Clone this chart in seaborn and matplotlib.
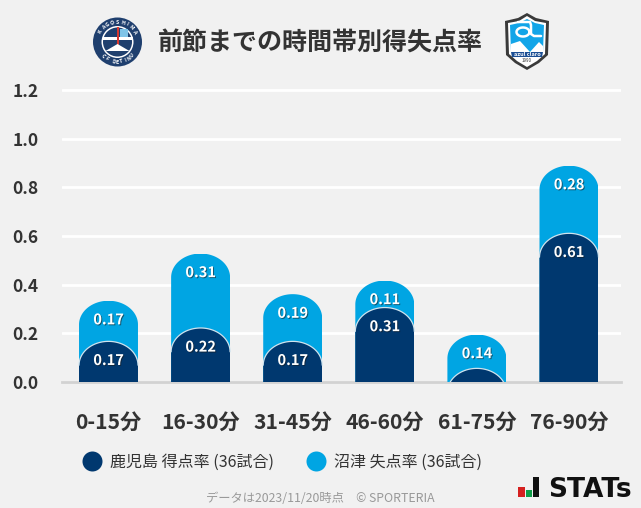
import numpy as np
import pandas as pd
import matplotlib
matplotlib.use('Agg')
import matplotlib.pyplot as plt
import matplotlib.patheffects as pe
from matplotlib.lines import Line2D
from matplotlib.patches import Circle, PathPatch, Polygon, Rectangle
from matplotlib.path import Path
import seaborn as sns

periods = ['0-15分', '16-30分', '31-45分', '46-60分', '61-75分', '76-90分']
scored = [0.167, 0.222, 0.167, 0.306, 0.056, 0.611]
conceded = [0.167, 0.306, 0.194, 0.111, 0.139, 0.278]
y_ticks = [0.0, 0.2, 0.4, 0.6, 0.8, 1.0, 1.2]
scored_label = '鹿児島 得点率 (36試合)'
conceded_label = '沼津 失点率 (36試合)'

NAVY = '#00386f'
SKY = '#00a5e3'
BG = '#f1f1f1'
W, H = 641, 508
CAP = 0.098  # height of the rounded bar top, in data units


def round_top(ax, bar, color, outline=None):
    x, w, h = bar.get_x(), bar.get_width(), bar.get_height()
    theta = np.linspace(np.pi, 0, 80)
    xs = x + w / 2 + w / 2 * np.cos(theta)
    ys = h - CAP + CAP * np.sin(theta)
    low = min(0, h - CAP)
    poly = np.column_stack([np.r_[x, xs, x + w], np.r_[low, ys, low]])
    clip = PathPatch(Path(poly, closed=False), transform=ax.transData)
    bar.set_clip_path(clip)
    bar.set_color(color)
    bar.set_linewidth(0)
    if outline:
        ax.plot(xs, ys, color=outline, lw=0.9, zorder=bar.get_zorder() + 0.1)


def add_logos(fig):
    # everything here is placed in pixel coordinates of the figure
    px = fig.add_axes([0, 0, 1, 1], facecolor='none')
    px.set_xlim(0, W)
    px.set_ylim(H, 0)
    px.axis('off')

    # Kagoshima crest
    cx, cy = 117.5, 42
    px.add_patch(Circle((cx, cy), 24.5, fc='#1f3f6e', ec='none'))
    px.add_patch(Circle((cx, cy), 16, fc='white', ec='none'))
    px.add_patch(Circle((cx, cy), 14.5, fc='#1f3f6e', ec='none'))
    px.add_patch(Rectangle((cx - 15, cy - 5), 30, 3, fc='white', ec='none'))
    px.add_patch(Rectangle((cx - 1, cy - 15), 2, 18, fc='#d8362e', ec='none'))
    px.add_patch(Rectangle((cx + 2, cy - 13), 8, 8, fc='#7fc4e8', ec='none'))
    px.add_patch(Polygon([[cx - 12, cy + 9], [cx, cy + 2], [cx + 12, cy + 9]], fc='white', ec='none'))
    for i, ch in enumerate('KAGOSHIMA'):
        ang = np.deg2rad(-58 + i * 14.5)
        px.text(cx + 20 * np.sin(ang), cy - 20 * np.cos(ang), ch, color='white', fontsize=3.8,
                fontweight='bold', rotation=-np.rad2deg(ang), ha='center', va='center')
    for i, ch in enumerate('UNITED FC'):
        ang = np.deg2rad(46 - i * 11.5)
        px.text(cx + 20 * np.sin(ang), cy + 20 * np.cos(ang), ch, color='white', fontsize=3.8,
                fontweight='bold', rotation=np.rad2deg(ang), ha='center', va='center')

    # Numazu crest
    sx, sy = 527, 41
    outer = [[-22, -20], [-9, -23], [0, -28], [9, -23], [22, -20], [21, 14], [12, 22], [0, 29], [-12, 22], [-21, 14]]
    inner = [[-19, -18], [-8, -20], [0, -25], [8, -20], [19, -18], [18, 13], [10, 20], [0, 26], [-10, 20], [-18, 13]]
    blue = [[-17, -16], [-8, -18], [0, -22], [8, -18], [17, -16], [16, 11], [-16, 11]]
    px.add_patch(Polygon([[sx + a, sy + b] for a, b in outer], fc='#3a3a3a', ec='none'))
    px.add_patch(Polygon([[sx + a, sy + b] for a, b in inner], fc='white', ec='none'))
    px.add_patch(Polygon([[sx + a, sy + b] for a, b in blue], fc='#12a5e8', ec='none'))
    # stylised "a" with its long tail
    t = np.linspace(0, 2 * np.pi, 40)
    px.plot(sx - 4 + 6.5 * np.cos(t), sy - 9 + 4.5 * np.sin(t), color='white', lw=1.8)
    px.plot([sx - 9, sx + 3, sx + 4, sx + 4, sx + 7, sx + 14], [sy - 19, sy - 19, sy - 16, sy - 7, sy - 5, sy - 5],
            color='white', lw=1.8)
    px.add_patch(Polygon([[sx - 16, sy + 3], [sx - 7, sy + 0], [sx + 3, sy + 11], [sx + 12, sy + 1], [sx + 16, sy + 5],
                          [sx + 16, sy + 11], [sx - 16, sy + 11]], fc='white', ec='none'))
    px.add_patch(Polygon([[sx - 16, sy + 11], [sx + 16, sy + 11], [sx + 15, sy + 16], [sx - 15, sy + 16]],
                         fc='#1c4f94', ec='none'))
    px.text(sx, sy + 13.4, 'azul claro', color='white', fontsize=4, fontweight='bold', ha='center', va='center')
    px.text(sx, sy + 19, '1990', color='#333333', fontsize=3.2, ha='center', va='center')

    # STATs mark
    px.add_patch(Rectangle((518, 487), 7, 10, fc='#d5201f', ec='none'))
    px.add_patch(Rectangle((526, 490), 6, 7, fc='#0f9d48', ec='none'))
    px.add_patch(Rectangle((533, 477), 6, 20, fc='#111111', ec='none'))
    px.text(548, 497, 'STATs', color='#111111', fontsize=19, fontweight='bold',
            family='DejaVu Sans', ha='left', va='baseline')


def main():
    sns.set_theme(style='whitegrid')
    plt.rcParams['font.family'] = ['Noto Sans CJK JP', 'DejaVu Sans']

    df = pd.DataFrame({'period': periods, 'scored': scored, 'conceded': conceded})
    df['total'] = df['scored'] + df['conceded']

    fig = plt.figure(figsize=(W / 100, H / 100), dpi=100, facecolor=BG)
    left, right, top, bottom = 62, 621, 88, 382
    ax = fig.add_axes([left / W, 1 - bottom / H, (right - left) / W, (bottom - top) / H], facecolor=BG)

    sns.barplot(data=df, x='period', y='total', color=SKY, width=0.64, saturation=1, ax=ax, zorder=3)
    n_light = len(ax.patches)
    sns.barplot(data=df, x='period', y='scored', color=NAVY, width=0.64, saturation=1, ax=ax, zorder=4)

    ax.set_ylim(0, 1.2 * 294 / 292)
    ax.set_xlim(-0.505, 5.565)
    bars = list(ax.patches)
    for bar in bars[:n_light]:
        round_top(ax, bar, SKY)
    for bar in bars[n_light:]:
        round_top(ax, bar, NAVY, outline='#cfe3ee')

    shadow = [pe.withSimplePatchShadow(offset=(0.7, -0.7), shadow_rgbFace='#1a1a1a', alpha=0.55)]
    for bar, value in zip(bars[:n_light], conceded):
        ax.annotate(f'{value:.2f}', (bar.get_x() + bar.get_width() / 2, bar.get_height()), xytext=(0, -13.4),
                    textcoords='offset points', ha='center', va='center', color='white', fontsize=10.5,
                    fontweight='bold', zorder=6, path_effects=shadow)
    for bar, value in zip(bars[n_light:], scored):
        if value < 0.1:
            continue
        ax.annotate(f'{value:.2f}', (bar.get_x() + bar.get_width() / 2, bar.get_height()), xytext=(0, -13.4),
                    textcoords='offset points', ha='center', va='center', color='white', fontsize=10.5,
                    fontweight='bold', zorder=6, path_effects=shadow)

    ax.set_yticks(y_ticks, [f'{t:.1f}' for t in y_ticks])
    ax.set_xlabel('')
    ax.set_ylabel('')
    ax.grid(axis='y', color='white', lw=2)
    ax.grid(axis='x', visible=False)
    ax.set_axisbelow(True)
    sns.despine(ax=ax, left=True)
    ax.spines['bottom'].set_color('#d2d2d2')
    ax.spines['bottom'].set_linewidth(2)
    ax.spines['bottom'].set_zorder(2)
    ax.tick_params(axis='y', length=0, pad=17, labelsize=12.5, labelcolor='#333333')
    ax.tick_params(axis='x', length=0, pad=21.5, labelsize=15.2, labelcolor='#333333')
    for label in ax.get_yticklabels():
        label.set_fontweight('bold')
    for label in ax.get_xticklabels():
        label.set_fontweight('bold')

    handles = [Line2D([], [], ls='none', marker='o', ms=14.4, color=NAVY, mew=0),
               Line2D([], [], ls='none', marker='o', ms=14.4, color=SKY, mew=0)]
    fig.legend(handles, [scored_label, conceded_label], ncol=2, frameon=False, loc='center left',
               bbox_to_anchor=(65 / W, 1 - 462 / H), fontsize=11.5, labelcolor='#333333', columnspacing=1.8,
               handletextpad=0.33, handlelength=1.6)

    fig.text(320.5 / W, 1 - 499 / H, 'データは2023/11/20時点\u3000© SPORTERIA', color='#999999', fontsize=8.85,
             ha='center', va='center')
    fig.text(320.5 / W, 1 - 43 / H, '前節までの時間帯別得失点率', color='#333333', fontsize=18,
             fontweight='bold', ha='center', va='center')

    add_logos(fig)
    fig.savefig('out.png', dpi=100, facecolor=BG)
    plt.close(fig)


if __name__ == '__main__':
    main()
